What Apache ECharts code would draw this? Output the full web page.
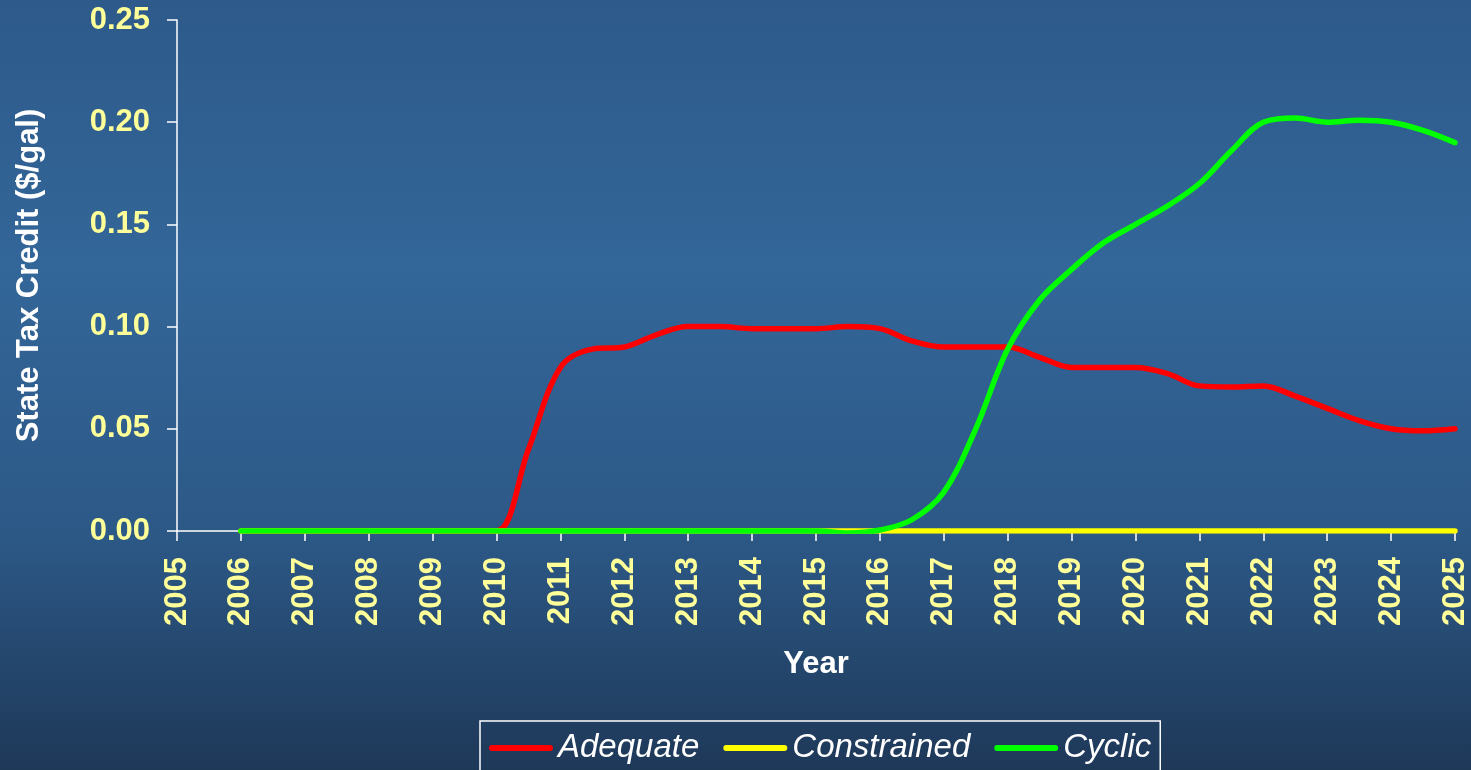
<!DOCTYPE html>
<html>
<head>
<meta charset="utf-8">
<script src="https://cdn.jsdelivr.net/npm/echarts@6/dist/echarts.min.js"></script>
<style>
  html, body { margin: 0; padding: 0; }
  #chart { width: 1471px; height: 770px; }
</style>
</head>
<body>
<div id="chart"></div>
<script>
// Half-year time points (years)
const years = [2006, 2006.5, 2007, 2007.5, 2008, 2008.5, 2009, 2009.5, 2010, 2010.5,
  2011, 2011.5, 2012, 2012.5, 2013, 2013.5, 2014, 2014.5, 2015, 2015.5,
  2016, 2016.5, 2017, 2017.5, 2018, 2018.5, 2019, 2019.5, 2020, 2020.5,
  2021, 2021.5, 2022, 2022.5, 2023, 2023.5, 2024, 2024.5, 2025];

// State tax credit, $/gal
const adequate = [0, 0, 0, 0, 0, 0, 0, 0, 0, 0.04,
  0.08, 0.089, 0.09, 0.096, 0.1, 0.1, 0.099, 0.099, 0.099, 0.1,
  0.099, 0.093, 0.09, 0.09, 0.09, 0.085, 0.08, 0.08, 0.08, 0.077,
  0.071, 0.0705, 0.071, 0.066, 0.06, 0.054, 0.05, 0.049, 0.05];

const constrained = [0, 0, 0, 0, 0, 0, 0, 0, 0, 0,
  0, 0, 0, 0, 0, 0, 0, 0, 0, 0,
  0, 0, 0, 0, 0, 0, 0, 0, 0, 0,
  0, 0, 0, 0, 0, 0, 0, 0, 0];

const cyclic = [0, 0, 0, 0, 0, 0, 0, 0, 0, 0,
  0, 0, 0, 0, 0, 0, 0, 0, 0, -0.001,
  0.0005, 0.0055, 0.019, 0.05, 0.089, 0.113, 0.128, 0.141, 0.15, 0.159,
  0.17, 0.186, 0.2, 0.202, 0.2, 0.201, 0.2, 0.196, 0.19];

const seriesNames = ['Adequate', 'Constrained', 'Cyclic'];
const seriesColors = ['#ff0000', '#ffff00', '#00ff00'];
const seriesValues = [adequate, constrained, cyclic];

const FONT = '"Liberation Sans", Arial, sans-serif';
const LABEL_COLOR = '#ffff99';

const chart = echarts.init(document.getElementById('chart'));

chart.setOption({
  animation: false,
  backgroundColor: {
    type: 'linear', x: 0, y: 0, x2: 0, y2: 1,
    colorStops: [
      { offset: 0, color: '#2d5a8a' },
      { offset: 0.35, color: '#336699' },
      { offset: 0.7, color: '#2c5886' },
      { offset: 1, color: '#1e3858' }
    ]
  },
  grid: { left: 177, right: 16, top: 20, bottom: 239, containLabel: false, outerBoundsMode: 'none' },
  legend: {
    left: 480,
    top: 721,
    padding: [9, 9, 30, 9],
    itemGap: 24,
    itemWidth: 64,
    itemHeight: 6,
    borderColor: '#ffffff',
    borderWidth: 1.5,
    icon: 'path://M3,0 L63,0 A3,3 0 0 1 63,6 L3,6 A3,3 0 0 1 3,0 Z',
    textStyle: { color: '#ffffff', fontFamily: FONT, fontStyle: 'italic', fontSize: 33, lineHeight: 36 },
    data: seriesNames
  },
  xAxis: {
    type: 'value',
    min: 2005,
    max: 2025,
    interval: 1,
    name: 'Year',
    nameLocation: 'middle',
    nameGap: 118,
    nameTextStyle: { color: '#ffffff', fontFamily: FONT, fontWeight: 'bold', fontSize: 31 },
    axisLine: { show: true, onZero: false, lineStyle: { color: '#ffffff', width: 1.5 } },
    axisTick: { show: true, length: 10, lineStyle: { color: '#ffffff', width: 1.5 } },
    axisLabel: {
      rotate: 90,
      margin: 26,
      color: LABEL_COLOR,
      fontFamily: FONT,
      fontWeight: 'bold',
      fontSize: 31,
      formatter: v => String(v)
    },
    splitLine: { show: false }
  },
  yAxis: {
    type: 'value',
    min: 0,
    max: 0.25,
    interval: 0.05,
    name: 'State Tax Credit ($/gal)',
    nameLocation: 'middle',
    nameGap: 132,
    nameTextStyle: { color: '#ffffff', fontFamily: FONT, fontWeight: 'bold', fontSize: 31 },
    axisLine: { show: true, lineStyle: { color: '#ffffff', width: 1.5 } },
    axisTick: { show: true, length: 10, lineStyle: { color: '#ffffff', width: 1.5 } },
    axisLabel: {
      margin: 27,
      color: LABEL_COLOR,
      fontFamily: FONT,
      fontWeight: 'bold',
      fontSize: 31,
      formatter: v => v.toFixed(2)
    },
    splitLine: { show: false }
  },
  series: seriesNames.map((name, i) => ({
    name: name,
    type: 'line',
    smooth: 0.35,
    showSymbol: false,
    symbol: 'none',
    color: seriesColors[i],
    lineStyle: { color: seriesColors[i], width: 5.5, cap: 'round' },
    data: years.map((y, k) => [y, seriesValues[i][k]]),
    z: 2 + i
  }))
});
</script>
</body>
</html>
